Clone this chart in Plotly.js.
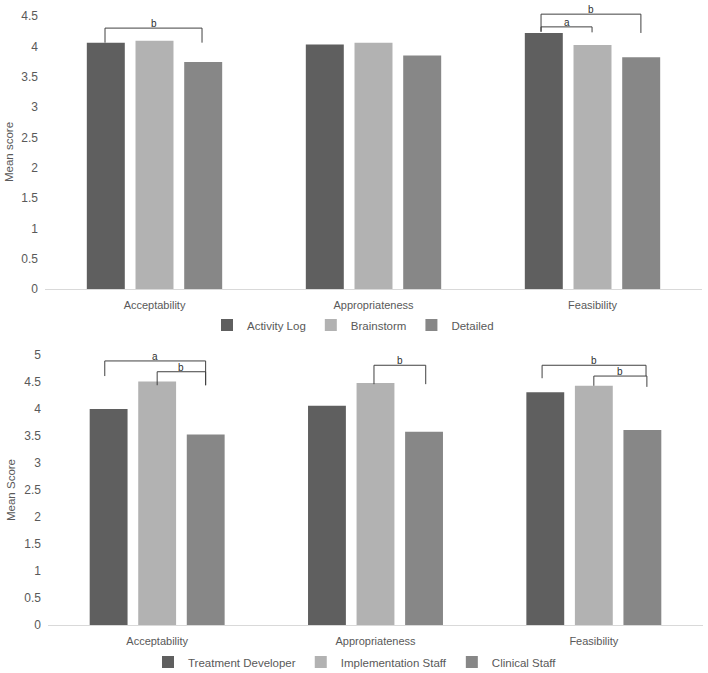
<!DOCTYPE html>
<html><head><meta charset="utf-8">
<script src="https://cdn.plot.ly/plotly-3.0.1.min.js"></script>
<style>html,body{margin:0;padding:0;background:#fff}#chart{width:708px;height:673px}</style>
</head><body><div id="chart"></div>
<script>
// ---- data ----
const categories = ['Acceptability', 'Appropriateness', 'Feasibility'];
const topSeries = ['Activity Log', 'Brainstorm', 'Detailed'];
const activityLog = [4.06, 4.03, 4.22];
const brainstorm = [4.09, 4.06, 4.02];
const detailed = [3.74, 3.85, 3.82];
const bottomSeries = ['Treatment Developer', 'Implementation Staff', 'Clinical Staff'];
const treatmentDeveloper = [4.00, 4.06, 4.31];
const implementationStaff = [4.51, 4.48, 4.43];
const clinicalStaff = [3.53, 3.58, 3.61];
const yTitleTop = 'Mean score';
const yTitleBottom = 'Mean Score';

// significance brackets: label, from, to, top level, left leg end, right leg end
const topBracketLabels = ['b', 'b', 'a'];
const topBracketFrom = [-0.226, 1.765, 1.765];
const topBracketTo = [0.217, 2.221, 1.998];
const topBracketTop = [4.30, 4.53, 4.32];
const topBracketLeft = [4.06, 4.24, 4.24];
const topBracketRight = [4.06, 4.22, 4.23];

const botBracketLabels = ['a', 'b', 'b', 'b', 'b'];
const botBracketFrom = [-0.24, 0.0, 0.993, 1.763, 2.0];
const botBracketTo = [0.222, 0.222, 1.23, 2.239, 2.243];
const botBracketTop = [4.89, 4.69, 4.81, 4.81, 4.61];
const botBracketLeft = [4.61, 4.44, 4.46, 4.57, 4.43];
const botBracketRight = [4.44, 4.44, 4.46, 4.61, 4.41];

// ---- styling ----
const colors = ['#5f5f5f', '#b2b2b2', '#878787'];
const textColor = '#595959';
const fontFamily = '"Liberation Sans", Arial, sans-serif';
const H = 673, W = 708;

const traces = [];
[activityLog, brainstorm, detailed].forEach((vals, i) => {
  traces.push({type: 'bar', x: categories, y: vals, name: topSeries[i],
    marker: {color: colors[i], line: {width: 0}}, xaxis: 'x', yaxis: 'y', legend: 'legend', hoverinfo: 'y'});
});
[treatmentDeveloper, implementationStaff, clinicalStaff].forEach((vals, i) => {
  traces.push({type: 'bar', x: categories, y: vals, name: bottomSeries[i],
    marker: {color: colors[i], line: {width: 0}}, xaxis: 'x2', yaxis: 'y2', legend: 'legend2', hoverinfo: 'y'});
});

const shapes = [];
const annotations = [];
function addBrackets(labels, from, to, top, left, right, xr, yr) {
  const ln = {color: '#404040', width: 1};
  for (let i = 0; i < labels.length; i++) {
    shapes.push({type: 'line', xref: xr, yref: yr, x0: from[i], x1: to[i], y0: top[i], y1: top[i], line: ln});
    shapes.push({type: 'line', xref: xr, yref: yr, x0: from[i], x1: from[i], y0: top[i], y1: left[i], line: ln});
    shapes.push({type: 'line', xref: xr, yref: yr, x0: to[i], x1: to[i], y0: top[i], y1: right[i], line: ln});
    annotations.push({xref: xr, yref: yr, x: (from[i] + to[i]) / 2, y: top[i], text: labels[i],
      showarrow: false, yanchor: 'bottom', yshift: -3, font: {size: 10, color: '#303030', family: fontFamily}});
  }
}
addBrackets(topBracketLabels, topBracketFrom, topBracketTo, topBracketTop, topBracketLeft, topBracketRight, 'x', 'y');
addBrackets(botBracketLabels, botBracketFrom, botBracketTo, botBracketTop, botBracketLeft, botBracketRight, 'x2', 'y2');

// y-axis titles
annotations.push({xref: 'paper', yref: 'paper', x: 9 / W, y: 1 - 152 / H, text: yTitleTop, textangle: -90,
  xanchor: 'center', yanchor: 'middle', showarrow: false, font: {size: 11.5, color: textColor, family: fontFamily}});
annotations.push({xref: 'paper', yref: 'paper', x: 11 / W, y: 1 - 490 / H, text: yTitleBottom, textangle: -90,
  xanchor: 'center', yanchor: 'middle', showarrow: false, font: {size: 11.5, color: textColor, family: fontFamily}});

const xCommon = {showgrid: false, zeroline: false, showline: true, linecolor: '#d9d9d9', linewidth: 1,
  ticks: '', ticklabelstandoff: 6, tickfont: {size: 11, color: textColor, family: fontFamily}, automargin: false, fixedrange: true};
const yCommon = {showgrid: false, zeroline: false, showline: false, ticks: '', dtick: 0.5, tick0: 0,
  ticklabelstandoff: 6, tickfont: {size: 12, color: textColor, family: fontFamily}, automargin: false, fixedrange: true};

const layout = {
  width: W, height: H,
  margin: {l: 0, r: 0, t: 0, b: 0, autoexpand: false},
  paper_bgcolor: '#ffffff', plot_bgcolor: '#ffffff',
  barmode: 'group', bargap: 0.333, bargroupgap: 0.22,
  font: {family: fontFamily, color: textColor},
  xaxis: Object.assign({}, xCommon, {domain: [45 / W, 702 / W], anchor: 'y'}),
  yaxis: Object.assign({}, yCommon, {domain: [1 - 289 / H, 1 - 0.8 / H], range: [0, 4.75], anchor: 'x'}),
  xaxis2: Object.assign({}, xCommon, {domain: [48 / W, 703 / W], anchor: 'y2'}),
  yaxis2: Object.assign({}, yCommon, {domain: [1 - 625 / H, 1 - 355 / H], range: [0, 5], anchor: 'x2'}),
  legend: {orientation: 'h', x: 353 / W, xanchor: 'center', y: 1 - 325 / H, yanchor: 'middle',
    font: {size: 11.5, color: textColor, family: fontFamily}, itemwidth: 30, bgcolor: 'rgba(0,0,0,0)'},
  legend2: {orientation: 'h', x: 355 / W, xanchor: 'center', y: 1 - 662 / H, yanchor: 'middle',
    font: {size: 11.5, color: textColor, family: fontFamily}, itemwidth: 30, bgcolor: 'rgba(0,0,0,0)'},
  showlegend: true,
  shapes: shapes,
  annotations: annotations
};

Plotly.newPlot('chart', traces, layout, {displayModeBar: false, staticPlot: true});
</script>
</body></html>
